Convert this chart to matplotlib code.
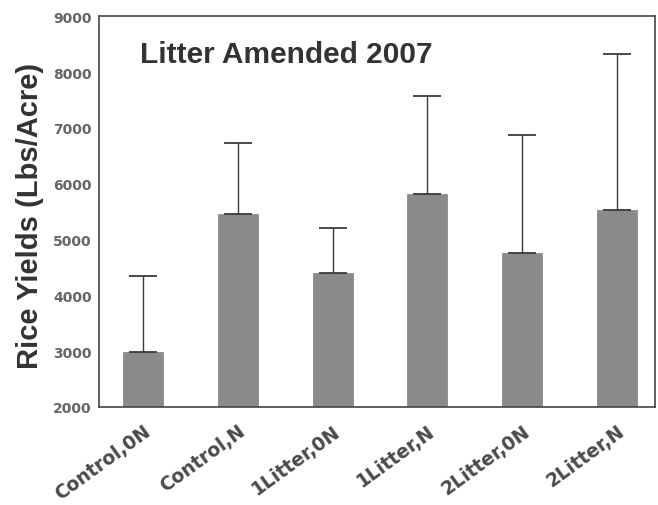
import numpy as np
import matplotlib
matplotlib.use("Agg")
from matplotlib import pyplot as plt

# treatments and mean yields with upper error
treatments = ["Control,0N", "Control,N", "1Litter,0N", "1Litter,N", "2Litter,0N", "2Litter,N"]
yields = [2990, 5450, 4400, 5820, 4750, 5520]
errors = [1360, 1270, 800, 1750, 2120, 2800]
yticks = [2000, 3000, 4000, 5000, 6000, 7000, 8000, 9000]

plt.rcParams['font.family'] = ['Liberation Sans', 'DejaVu Sans']
fig = plt.figure(figsize=(6.58, 5.06), dpi=100)
ax = fig.add_axes([0.150, 0.194, 0.845, 0.772])

x = np.arange(len(treatments))
ax.bar(x, yields, width=0.42, color="#8a8a8a", edgecolor="#808080", linewidth=0.5, zorder=2)
ax.errorbar(x, yields, yerr=[np.zeros(len(errors)), errors], fmt="none",
            ecolor="#3a3a3a", elinewidth=1.0, capsize=10, capthick=1.3, zorder=3)

ax.set_ylim(2000, 9000)
ax.set_xlim(-0.47, 5.40)
ax.set_yticks(yticks)
ax.set_yticklabels([str(t) for t in yticks], fontsize=10, fontweight="bold",
                   color="#666666", family="DejaVu Sans")
ax.set_xticks(x)
ax.set_xticklabels(treatments, rotation=36, ha="right", rotation_mode="anchor",
                   fontsize=13.5, fontweight="bold", color="#4a4a4a", family="DejaVu Sans")
ax.tick_params(axis="y", length=0, pad=5)
ax.tick_params(axis="x", length=0, pad=10)

for s in ax.spines.values():
    s.set_color("#444444")
    s.set_linewidth(1.2)

ax.set_ylabel("Rice Yields (Lbs/Acre)", fontsize=21, fontweight="bold", color="#333333")
ax.yaxis.set_label_coords(-0.098, 0.49)
ax.text(0.074, 0.882, "Litter Amended 2007", transform=ax.transAxes,
        fontsize=21.5, fontweight="bold", color="#333333")

fig.savefig("out.png", dpi=100)
